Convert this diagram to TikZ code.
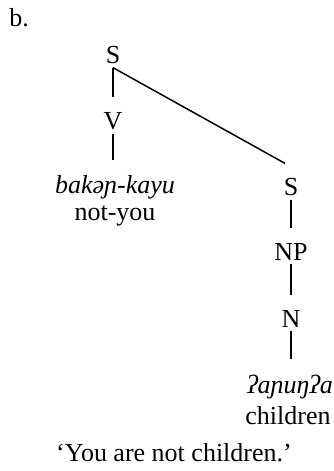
\documentclass[tikz,border=0pt]{standalone}
\usepackage{fontspec}
\setmainfont{Liberation Serif}
\begin{document}
\begin{tikzpicture}[x=0.5pt,y=-0.5pt,
  lbl/.style={font=\fontsize{13}{15}\selectfont, inner sep=0pt, anchor=base},
  br/.style={line width=0.75pt, shorten <=2pt, shorten >=7.5pt}]
\useasboundingbox (0,0) rectangle (333,471);
\node[lbl] (lab) at (19,26) {b.};
\node[lbl] (S1) at (113,63) {S};
\node[lbl] (V) at (113,129) {V};
\node[lbl] (w1) at (115,193) {\itshape bakəɲ-kayu};
\node[lbl] (g1) at (115,220) {not-you};
\node[lbl] (S2) at (291,195) {S};
\node[lbl] (NP) at (291,260) {NP};
\node[lbl] (N) at (291,327) {N};
\node[lbl] (w2) at (290,393) {\itshape ʔaɲuŋʔa};
\node[lbl] (g2) at (288,424) {children};
\node[lbl] (tr) at (174,461) {‘You are not children.’};
\draw[br] (S1.south) -- (V.north);
\draw[br] (V.south) -- (V.south |- w1.north);
\draw[line width=0.75pt] ([yshift=-2pt]S1.south) -- ([shift={(-3pt,7pt)}]S2.north);
\draw[br] (S2.south) -- (NP.north);
\draw[br] (NP.south) -- (N.north);
\draw[br] (N.south) -- (N.south |- w2.north);
\end{tikzpicture}
\end{document}
